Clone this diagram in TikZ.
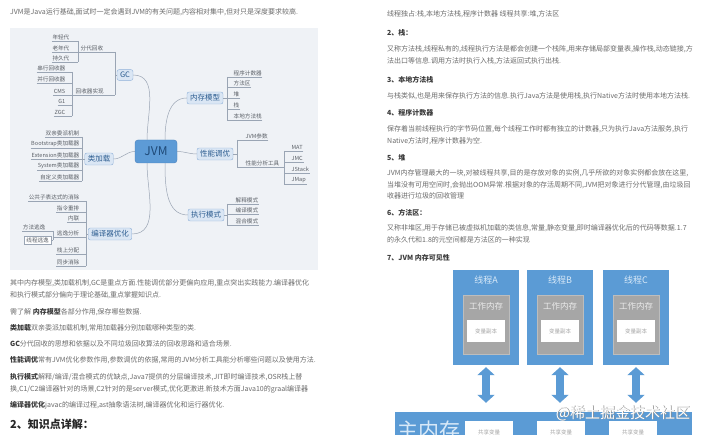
\documentclass[tikz,border=0pt]{standalone}
\usepackage{fontspec}
\setmainfont{Noto Sans CJK SC}
\usetikzlibrary{arrows.meta}

\definecolor{bodygray}{HTML}{6B6B6B}
\definecolor{headgray}{HTML}{3A3A3A}
\definecolor{mapbg}{HTML}{EFF2F6}
\definecolor{linkgray}{HTML}{9AA5B4}
\definecolor{leafgray}{HTML}{5A5F66}
\definecolor{branchfill}{HTML}{DAE6F4}
\definecolor{branchline}{HTML}{8FB0D8}
\definecolor{branchtext}{HTML}{2D5D90}
\definecolor{jvmfill}{HTML}{5D9BD6}
\definecolor{jvmline}{HTML}{4A80BB}
\definecolor{jvmtext}{HTML}{1F4A78}
\definecolor{memblue}{HTML}{5B9BD5}
\definecolor{wmgray}{HTML}{A6A6A6}
\definecolor{wmline}{HTML}{BDBDBD}
\definecolor{titletext}{HTML}{D8E9F8}

\tikzset{
  body/.style={anchor=west, inner sep=0pt, text=bodygray, font=\fontsize{7}{8}\selectfont},
  head/.style={body, text=headgray, font=\fontsize{7}{8}\selectfont\bfseries},
  link/.style={draw=linkgray, line width=0.5pt},
  leafL/.style={anchor=south east, inner xsep=0.5pt, inner ysep=1pt, text=leafgray, font=\fontsize{5.6}{6}\selectfont},
  leafR/.style={leafL, anchor=south west},
  branch/.style={draw=branchline, fill=branchfill, rounded corners=2pt, text=branchtext, inner xsep=3pt, inner ysep=2.5pt, font=\fontsize{7.5}{8}\selectfont},
  thread/.style={fill=memblue, minimum width=66pt, minimum height=95pt},
  workmem/.style={fill=wmgray, draw=wmline, line width=1pt, minimum width=46pt, minimum height=59pt},
  copybox/.style={fill=white, minimum width=38pt, minimum height=22pt, text=wmgray, font=\fontsize{5.5}{6}\selectfont},
  dbl/.style={draw=memblue, line width=8pt, {Triangle[width=17pt,length=8pt]}-{Triangle[width=17pt,length=8pt]}, shorten <=2pt, shorten >=9pt}
}

\begin{document}
\begin{tikzpicture}[x=1pt,y=-1pt]
  \useasboundingbox (0,0) rectangle (705,435);
  \fill[white] (0,0) rectangle (705,435);
  \fill[mapbg] (10,28) rectangle (318,270);

  % left column
  \node[body] (l1) at (10,12) {JVM是Java运行基础,面试时一定会遇到JVM的有关问题,内容相对集中,但对只是深度要求较高.};
  \node[body] (l2) at (10,283) {其中内存模型,类加载机制,GC是重点方面.性能调优部分更偏向应用,重点突出实践能力.编译器优化};
  \node[body] (l3) at (10,295) {和执行模式部分偏向于理论基础,重点掌握知识点.};
  \node[body] (l4) at (10,312) {需了解 \textbf{\color{headgray}内存模型}各部分作用,保存哪些数据.};
  \node[body] (l5) at (10,328) {\textbf{\color{headgray}类加载}双亲委派加载机制,常用加载器分别加载哪种类型的类.};
  \node[body] (l6) at (10,344) {\textbf{\color{headgray}GC}分代回收的思想和依据以及不同垃圾回收算法的回收思路和适合场景.};
  \node[body] (l7) at (10,360) {\textbf{\color{headgray}性能调优}常有JVM优化参数作用,参数调优的依据,常用的JVM分析工具能分析哪些问题以及使用方法.};
  \node[body] (l8) at (10,377) {\textbf{\color{headgray}执行模式}解释/编译/混合模式的优缺点,Java7提供的分层编译技术,JIT即时编译技术,OSR栈上替};
  \node[body] (l9) at (10,389) {换,C1/C2编译器针对的场景,C2针对的是server模式,优化更激进.新技术方面Java10的graal编译器};
  \node[body] (l10) at (10,405) {\textbf{\color{headgray}编译器优化}javac的编译过程,ast抽象语法树,编译器优化和运行器优化.};
  \node[head, font=\fontsize{11}{12}\selectfont\bfseries, text=black!85] (l11) at (10,424) {2、知识点详解：};

  % mind map
  \node[draw=jvmline, fill=jvmfill, rounded corners=3pt, text=jvmtext, minimum width=42pt, minimum height=23pt, font=\fontsize{12}{12}\selectfont] (jvm) at (156,151.5) {JVM};
  \node[branch] (gc) at (125,75) {GC};
  \node[branch] (lj) at (99,159) {类加载};
  \node[branch] (by) at (110,234) {编译器优化};
  \node[branch] (nc) at (205,98) {内存模型};
  \node[branch] (xn) at (215,154) {性能调优};
  \node[branch] (zx) at (206,215) {执行模式};

  \draw[link] (gc.east) to[out=0,in=90] ([xshift=-9pt]jvm.north);
  \draw[link] (lj.east) to[out=0,in=180] (jvm.west);
  \draw[link] (by.east) to[out=0,in=-90] ([xshift=-9pt]jvm.south);
  \draw[link] ([xshift=9pt]jvm.north) to[out=90,in=180] (nc.west);
  \draw[link] (jvm.east) to[out=0,in=180] (xn.west);
  \draw[link] ([xshift=9pt]jvm.south) to[out=-90,in=180] (zx.west);

  \coordinate (bGC) at (115,75);
  \coordinate (bFD) at (78,52);
  \coordinate (bHS) at (72,95);
  \coordinate (bLJ) at (82,159);
  \coordinate (bBY) at (86,234);
  \coordinate (bTY) at (53,237);
  \coordinate (bNC) at (227,98);
  \coordinate (bXN) at (237,154);
  \coordinate (bGJ) at (284,167);
  \coordinate (bZX) at (227,215);

  % GC
  \node[leafL, anchor=south west] (fd) at (80,52) {分代回收};
  \node[leafL, anchor=south west] (hs) at (75,95) {回收器实现};
  \draw[link] (fd.south west -| bFD) -- (fd.south west -| bGC);
  \draw[link] (hs.south west -| bHS) -- (hs.south west -| bGC);
  \draw[link] (fd.south -| bGC) -- (hs.south -| bGC);
  \draw[link] (gc.west) -- (gc.west -| bGC);
  \node[leafL] (fd1) at (70,41) {年轻代};
  \node[leafL] (fd2) at (70,52) {老年代};
  \node[leafL] (fd3) at (70,62) {持久代};
  \draw[link] (fd1.south west) -- (fd1.south west -| bFD);
  \draw[link] (fd2.south west) -- (fd2.south west -| bFD);
  \draw[link] (fd3.south west) -- (fd3.south west -| bFD);
  \draw[link] (fd1.south -| bFD) -- (fd3.south -| bFD);
  \node[leafL] (hs1) at (66,72) {串行回收器};
  \node[leafL] (hs2) at (66,83) {并行回收器};
  \node[leafL] (hs3) at (66,95) {CMS};
  \node[leafL] (hs4) at (66,105) {G1};
  \node[leafL] (hs5) at (66,116) {ZGC};
  \draw[link] (hs1.south west) -- (hs1.south west -| bHS);
  \draw[link] (hs2.south west) -- (hs2.south west -| bHS);
  \draw[link] (hs3.south west) -- (hs3.south west -| bHS);
  \draw[link] (hs4.south west) -- (hs4.south west -| bHS);
  \draw[link] (hs5.south west) -- (hs5.south west -| bHS);
  \draw[link] (hs1.south -| bHS) -- (hs5.south -| bHS);

  % class loading
  \node[leafL] (lj1) at (80,137) {双亲委派机制};
  \node[leafL] (lj2) at (80,148) {Bootstrap类加载器};
  \node[leafL] (lj3) at (80,159) {Extension类加载器};
  \node[leafL] (lj4) at (80,170) {System类加载器};
  \node[leafL] (lj5) at (80,181) {自定义类加载器};
  \draw[link] (lj1.south west) -- (lj1.south west -| bLJ);
  \draw[link] (lj2.south west) -- (lj2.south west -| bLJ);
  \draw[link] (lj3.south west) -- (lj3.south west -| bLJ);
  \draw[link] (lj4.south west) -- (lj4.south west -| bLJ);
  \draw[link] (lj5.south west) -- (lj5.south west -| bLJ);
  \draw[link] (lj1.south -| bLJ) -- (lj5.south -| bLJ);
  \draw[link] (lj.west) -- (lj.west -| bLJ);

  % compiler optimisation
  \node[leafL] (by1) at (80,201) {公共子表达式的消除};
  \node[leafL] (by2) at (80,212) {指令重排};
  \node[leafL] (by3) at (80,222) {内联};
  \node[leafL] (ty) at (80,237) {逃逸分析};
  \node[leafL] (by5) at (80,254) {栈上分配};
  \node[leafL] (by6) at (80,266) {同步消除};
  \draw[link] (by1.south west) -- (by1.south west -| bBY);
  \draw[link] (by2.south west) -- (by2.south west -| bBY);
  \draw[link] (by3.south west) -- (by3.south west -| bBY);
  \draw[link] (ty.south west -| bTY) -- (ty.south west -| bBY);
  \draw[link] (by5.south west) -- (by5.south west -| bBY);
  \draw[link] (by6.south west) -- (by6.south west -| bBY);
  \draw[link] (by1.south -| bBY) -- (by6.south -| bBY);
  \draw[link] (by.west) -- (by.west -| bBY);
  \node[leafL] (ty1) at (46,231) {方法逃逸};
  \node[leafL, draw=linkgray, fill=white, inner xsep=2pt] (ty2) at (51,244) {线程逃逸};
  \draw[link] (ty1.south west) -- (ty1.south west -| bTY);
  \draw[link] (ty2.east) -- (ty2.east -| bTY);
  \draw[link] (ty1.south -| bTY) -- (ty2.east -| bTY);

  % memory model
  \node[leafR] (nc1) at (233,77) {程序计数器};
  \node[leafR] (nc2) at (233,87) {方法区};
  \node[leafR] (nc3) at (233,98) {堆};
  \node[leafR] (nc4) at (233,109) {栈};
  \node[leafR] (nc5) at (233,120) {本地方法栈};
  \draw[link] (nc1.south east) -- (nc1.south east -| bNC);
  \draw[link] (nc2.south east) -- (nc2.south east -| bNC);
  \draw[link] (nc3.south east) -- (nc3.south east -| bNC);
  \draw[link] (nc4.south east) -- (nc4.south east -| bNC);
  \draw[link] (nc5.south east) -- (nc5.south east -| bNC);
  \draw[link] (nc1.south -| bNC) -- (nc5.south -| bNC);
  \draw[link] (nc.east) -- (nc.east -| bNC);

  % tuning
  \node[leafR] (xn1) at (245,140) {JVM参数};
  \node[leafR] (gj) at (245,167) {性能分析工具};
  \draw[link] (xn1.south east) -- (xn1.south east -| bXN);
  \draw[link] (gj.south east -| bGJ) -- (gj.south east -| bXN);
  \draw[link] (xn1.south -| bXN) -- (gj.south -| bXN);
  \draw[link] (xn.east) -- (xn.east -| bXN);
  \node[leafR] (gj1) at (291,151) {MAT};
  \node[leafR] (gj2) at (291,162) {JMC};
  \node[leafR] (gj3) at (291,173) {JStack};
  \node[leafR] (gj4) at (291,184) {JMap};
  \draw[link] (gj1.south east) -- (gj1.south east -| bGJ);
  \draw[link] (gj2.south east) -- (gj2.south east -| bGJ);
  \draw[link] (gj3.south east) -- (gj3.south east -| bGJ);
  \draw[link] (gj4.south east) -- (gj4.south east -| bGJ);
  \draw[link] (gj1.south -| bGJ) -- (gj4.south -| bGJ);

  % execution modes
  \node[leafR] (zx1) at (235,204) {解释模式};
  \node[leafR] (zx2) at (235,214) {编译模式};
  \node[leafR] (zx3) at (235,225) {混合模式};
  \draw[link] (zx1.south east) -- (zx1.south east -| bZX);
  \draw[link] (zx2.south east) -- (zx2.south east -| bZX);
  \draw[link] (zx3.south east) -- (zx3.south east -| bZX);
  \draw[link] (zx1.south -| bZX) -- (zx3.south -| bZX);
  \draw[link] (zx.east) -- (zx.east -| bZX);

  % right column
  \node[body] (r1) at (387,14) {线程独占:栈,本地方法栈,程序计数器 线程共享:堆,方法区};
  \node[head] (r2) at (387,33) {2、栈：};
  \node[body] (r3) at (387,49) {又称方法栈,线程私有的,线程执行方法是都会创建一个栈阵,用来存储局部变量表,操作栈,动态链接,方};
  \node[body] (r4) at (387,61) {法出口等信息.调用方法时执行入栈,方法返回式执行出栈.};
  \node[head] (r5) at (387,80) {3、本地方法栈};
  \node[body] (r6) at (387,96) {与栈类似,也是用来保存执行方法的信息.执行Java方法是使用栈,执行Native方法时使用本地方法栈.};
  \node[head] (r7) at (387,113) {4、程序计数器};
  \node[body] (r8) at (387,129) {保存着当前线程执行的字节码位置,每个线程工作时都有独立的计数器,只为执行Java方法服务,执行};
  \node[body] (r9) at (387,141) {Native方法时,程序计数器为空.};
  \node[head] (r10) at (387,158) {5、堆};
  \node[body] (r11) at (387,173) {JVM内存管理最大的一块,对被线程共享,目的是存放对象的实例,几乎所欲的对象实例都会放在这里,};
  \node[body] (r12) at (387,185) {当堆没有可用空间时,会抛出OOM异常.根据对象的存活周期不同,JVM把对象进行分代管理,由垃圾回};
  \node[body] (r13) at (387,196) {收器进行垃圾的回收管理};
  \node[head] (r14) at (387,213) {6、方法区：};
  \node[body] (r15) at (387,228) {又称非堆区,用于存储已被虚拟机加载的类信息,常量,静态变量,即时编译器优化后的代码等数据.1.7};
  \node[body] (r16) at (387,240) {的永久代和1.8的元空间都是方法区的一种实现};
  \node[head] (r17) at (387,258) {7、JVM 内存可见性};

  % memory visibility
  \node[thread] (thA) at (486,317.5) {};
  \node[thread] (thB) at (560,317.5) {};
  \node[thread] (thC) at (636,317.5) {};
  \node[text=titletext, font=\fontsize{9}{10}\selectfont] (ttA) at (486,280) {线程A};
  \node[text=titletext, font=\fontsize{9}{10}\selectfont] (ttB) at (560,280) {线程B};
  \node[text=titletext, font=\fontsize{9}{10}\selectfont] (ttC) at (636,280) {线程C};
  \node[workmem] (wmA) at (486,325.5) {};
  \node[workmem] (wmB) at (560,325.5) {};
  \node[workmem] (wmC) at (636,325.5) {};
  \node[text=white!92!black, font=\fontsize{8.5}{9}\selectfont] (wtA) at (486,306) {工作内存};
  \node[text=white!92!black, font=\fontsize{8.5}{9}\selectfont] (wtB) at (560,306) {工作内存};
  \node[text=white!92!black, font=\fontsize{8.5}{9}\selectfont] (wtC) at (636,306) {工作内存};
  \node[copybox] (vcA) at (486,331) {变量副本};
  \node[copybox] (vcB) at (560,331) {变量副本};
  \node[copybox] (vcC) at (636,331) {变量副本};

  \node[fill=memblue, minimum width=297pt, minimum height=40pt] (mm) at (543.5,432) {};
  \node[anchor=base west, inner sep=0pt, text=titletext, font=\fontsize{21}{22}\selectfont] (mmt) at (397,439) {主内存};
  \node[copybox, minimum width=48pt] (sv1) at (489,432) {共享变量};
  \node[copybox, minimum width=48pt] (sv2) at (561,432) {共享变量};
  \node[copybox, minimum width=48pt] (sv3) at (633,432) {共享变量};

  \draw[dbl] (thA.south) -- (thA.south |- mm.north);
  \draw[dbl] (thB.south) -- (thB.south |- mm.north);
  \draw[dbl] (thC.south) -- (thC.south |- mm.north);

  \node[text=black!45, font=\fontsize{15}{16}\selectfont] (wm1) at (623.7,413.7) {@稀土掘金技术社区};
  \node[text=white, font=\fontsize{15}{16}\selectfont] (wm2) at (623,413) {@稀土掘金技术社区};
\end{tikzpicture}
\end{document}
